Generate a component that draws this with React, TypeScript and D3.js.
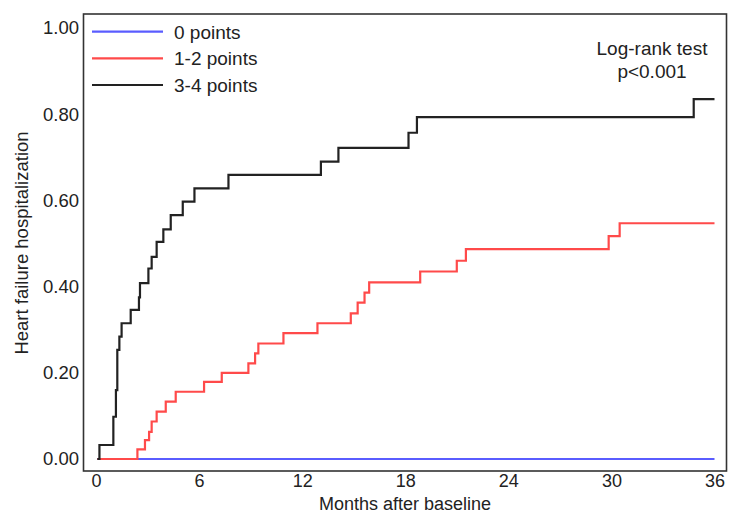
import React, { useEffect, useRef } from 'react';
import * as d3 from 'd3';

// Kaplan-Meier style cumulative incidence
const zeroTimes = [0.08, 36];
const zeroValues = [0, 0];

const midTimes = [0.08, 2.41, 2.85, 3.09, 3.24, 3.53, 4.06, 4.64, 6.29, 7.32, 8.87, 9.26, 9.45, 10.91, 12.89, 14.83, 15.23, 15.63, 15.9, 18.87, 21.0, 21.53, 29.84, 30.48, 36];
const midValues = [0, 0.0225, 0.044, 0.063, 0.087, 0.11, 0.133, 0.156, 0.179, 0.2, 0.222, 0.245, 0.268, 0.292, 0.315, 0.338, 0.363, 0.386, 0.41, 0.435, 0.46, 0.487, 0.517, 0.547, 0.547];

const highTimes = [0.08, 0.2, 1.01, 1.16, 1.24, 1.36, 1.49, 2.02, 2.5, 2.56, 3.05, 3.24, 3.53, 3.92, 4.35, 5.05, 5.73, 7.71, 13.09, 14.11, 18.19, 18.68, 34.79, 36];
const highValues = [0, 0.0325, 0.098, 0.16, 0.253, 0.284, 0.315, 0.346, 0.375, 0.408, 0.442, 0.469, 0.504, 0.533, 0.566, 0.597, 0.628, 0.659, 0.69, 0.722, 0.757, 0.793, 0.835, 0.835];

const groupLabels = ['0 points', '1-2 points', '3-4 points'];
const groupColors = ['#5a5cff', '#ff4a4a', '#222222'];

const xTicks = [0, 6, 12, 18, 24, 30, 36];
const yTicks = [0, 0.2, 0.4, 0.6, 0.8, 1.0];

const App: React.FC = () => {
  const ref = useRef<SVGSVGElement>(null);

  useEffect(() => {
    const svg = d3.select(ref.current);
    svg.selectAll('*').remove();

    const font = 'Liberation Sans, Arial, sans-serif';
    const x = d3.scaleLinear().domain([0, 36]).range([96, 714.5]);
    const y = d3.scaleLinear().domain([0, 1]).range([459, 28]);

    const series = [
      zeroTimes.map((t, i) => [t, zeroValues[i]] as [number, number]),
      midTimes.map((t, i) => [t, midValues[i]] as [number, number]),
      highTimes.map((t, i) => [t, highValues[i]] as [number, number]),
    ];

    const line = d3
      .line<[number, number]>()
      .x((d) => x(d[0]))
      .y((d) => y(d[1]))
      .curve(d3.curveStepAfter);

    // frame
    svg
      .append('rect')
      .attr('x', 83.5)
      .attr('y', 14)
      .attr('width', 643)
      .attr('height', 457)
      .attr('fill', 'none')
      .attr('stroke', '#333')
      .attr('stroke-width', 1.6);

    series.forEach((s, i) => {
      svg
        .append('path')
        .datum(s)
        .attr('d', line)
        .attr('fill', 'none')
        .attr('stroke', groupColors[i])
        .attr('stroke-width', 2.2);
    });

    const yAxis = svg
      .append('g')
      .attr('transform', 'translate(83,0)')
      .call(d3.axisLeft(y).tickValues(yTicks).tickSize(0).tickPadding(4).tickFormat(d3.format('.2f')));
    yAxis.select('.domain').remove();
    yAxis.selectAll('text').attr('font-family', font).attr('font-size', 18.5).attr('fill', '#222');

    const xAxis = svg
      .append('g')
      .attr('transform', 'translate(0,471)')
      .call(d3.axisBottom(x).tickValues(xTicks).tickSize(0).tickPadding(3).tickFormat(d3.format('d')));
    xAxis.select('.domain').remove();
    xAxis.selectAll('text').attr('font-family', font).attr('font-size', 18).attr('fill', '#222');

    svg
      .append('text')
      .attr('x', 405)
      .attr('y', 510)
      .attr('text-anchor', 'middle')
      .attr('font-family', font)
      .attr('font-size', 18)
      .attr('fill', '#222')
      .text('Months after baseline');

    svg
      .append('text')
      .attr('transform', 'translate(28,243) rotate(-90)')
      .attr('text-anchor', 'middle')
      .attr('font-family', font)
      .attr('font-size', 18.5)
      .attr('fill', '#222')
      .text('Heart failure hospitalization');

    // legend
    const legendY = [31.7, 58.3, 85];
    groupLabels.forEach((label, i) => {
      svg
        .append('line')
        .attr('x1', 92)
        .attr('x2', 163)
        .attr('y1', legendY[i])
        .attr('y2', legendY[i])
        .attr('stroke', groupColors[i])
        .attr('stroke-width', 2.2);
      svg
        .append('text')
        .attr('x', 174)
        .attr('y', legendY[i])
        .attr('dy', '0.36em')
        .attr('font-family', font)
        .attr('font-size', 19)
        .attr('fill', '#222')
        .text(label);
    });

    const note = ['Log-rank test', 'p<0.001'];
    note.forEach((t, i) => {
      svg
        .append('text')
        .attr('x', 652)
        .attr('y', 48 + i * 23)
        .attr('dy', '0.36em')
        .attr('text-anchor', 'middle')
        .attr('font-family', font)
        .attr('font-size', 19)
        .attr('fill', '#222')
        .text(t);
    });
  }, []);

  return (
    <svg
      ref={ref}
      width={739}
      height={520}
      style={{ position: 'absolute', left: 0, top: 0, background: '#fff' }}
    />
  );
};

export default App;
